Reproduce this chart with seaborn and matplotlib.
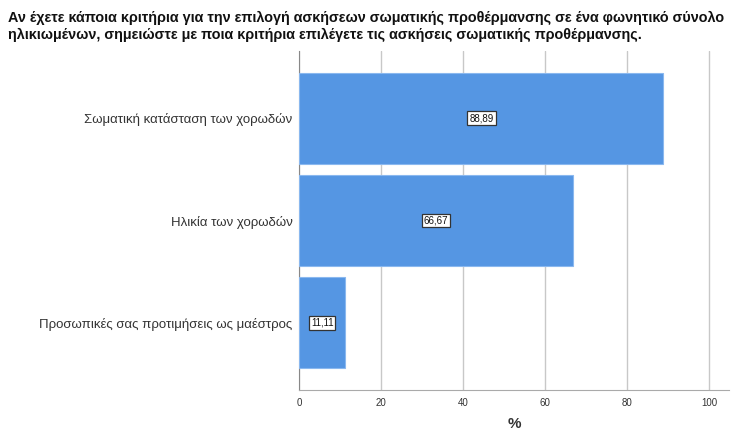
import matplotlib
matplotlib.use("Agg")
import matplotlib.pyplot as plt
import numpy as np
import pandas as pd
import seaborn as sns

categories = [
    "Σωματική κατάσταση των χορωδών",
    "Ηλικία των χορωδών",
    "Προσωπικές σας προτιμήσεις ως μαέστρος",
]
percent = [88.89, 66.67, 11.11]
x_ticks = [0, 20, 40, 60, 80, 100]
title = (
    "Αν έχετε κάποια κριτήρια για την επιλογή ασκήσεων σωματικής προθέρμανσης σε ένα φωνητικό σύνολο\n"
    "ηλικιωμένων, σημειώστε με ποια κριτήρια επιλέγετε τις ασκήσεις σωματικής προθέρμανσης."
)

df = pd.DataFrame({"criterion": categories, "percent": percent})

sns.set_style("white")
plt.rcParams["font.family"] = ["Liberation Sans", "DejaVu Sans"]

fig = plt.figure(figsize=(7.31, 4.30), dpi=100)
ax = fig.add_axes([0.4097, 0.093, 0.5882, 0.7884])

sns.barplot(
    data=df,
    x="percent",
    y="criterion",
    order=categories,
    color="#5596e3",
    saturation=1,
    width=0.89,
    edgecolor="#8ab8ef",
    linewidth=0.8,
    ax=ax,
    zorder=3,
)

ax.set_xlim(0, 105)
ax.set_ylim(2.66, -0.66)
ax.set_xticks(x_ticks)
ax.set_xticklabels([str(t) for t in x_ticks], fontsize=7, color="#333333")
ax.tick_params(axis="y", labelsize=9.5, labelcolor="#333333", length=0, pad=5)
ax.tick_params(axis="x", length=0, pad=6)
ax.grid(axis="x", color="#c8c8c8", linewidth=1, zorder=0)
ax.set_ylabel("")
ax.set_xlabel("%", fontsize=11, fontweight="bold", color="#333333", labelpad=6)

for side in ["top", "right"]:
    ax.spines[side].set_visible(False)
ax.spines["left"].set_color("#888888")
ax.spines["bottom"].set_color("#aaaaaa")

labels = ["{:.2f}".format(v).replace(".", ",") for v in percent]
ax.bar_label(
    ax.containers[0],
    labels=labels,
    label_type="center",
    fontsize=7,
    color="#111111",
    bbox=dict(boxstyle="square,pad=0.2", facecolor="white", edgecolor="#333333", linewidth=0.9),
)

fig.text(0.011, 0.975, title, ha="left", va="top", fontsize=10.4, fontweight="bold",
         color="#111111", linespacing=1.3)

fig.savefig("out.png", dpi=100)
